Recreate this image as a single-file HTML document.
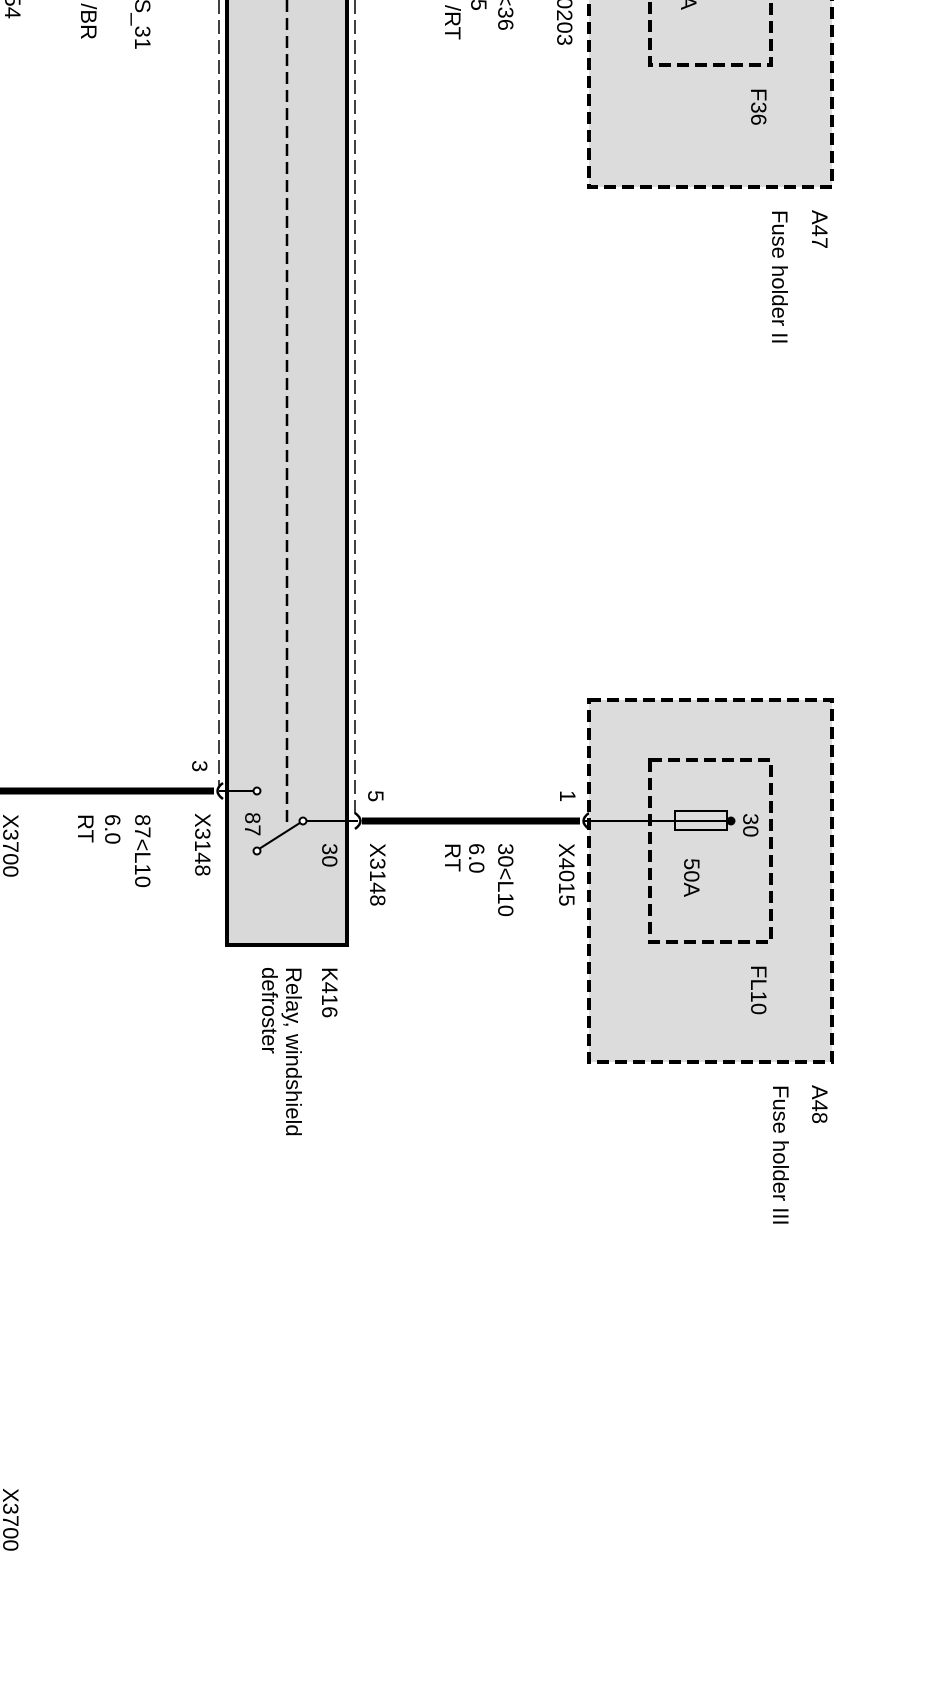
<!DOCTYPE html>
<html><head><meta charset="utf-8"><style>
html,body{margin:0;padding:0;background:#fff;}
svg{display:block;}
text{font-family:"Liberation Sans",Arial,sans-serif;font-size:22px;fill:#000;}
</style></head><body>
<svg width="938" height="1701" viewBox="0 0 938 1701" xmlns="http://www.w3.org/2000/svg">
<!-- Relay K416 -->
<rect x="227" y="-10" width="120" height="955" fill="#d9d9d9" stroke="#000" stroke-width="4"/>
<line x1="287" y1="0" x2="287" y2="828" stroke="#000" stroke-width="2.5" stroke-dasharray="12,6"/>
<line x1="219" y1="0" x2="219" y2="786" stroke="#000" stroke-width="1.5" stroke-dasharray="14,6"/>
<line x1="355" y1="0" x2="355" y2="815" stroke="#000" stroke-width="1.5" stroke-dasharray="14,6"/>

<!-- wire 3 -->
<line x1="0" y1="791" x2="214" y2="791" stroke="#000" stroke-width="7"/>
<path d="M223 783 Q212 791 223 799" fill="none" stroke="#000" stroke-width="2.5"/>
<line x1="219" y1="791" x2="254" y2="791" stroke="#000" stroke-width="2"/>
<circle cx="257" cy="791" r="3.5" fill="#fff" stroke="#000" stroke-width="2"/>
<!-- switch -->
<line x1="303" y1="821" x2="259" y2="849" stroke="#000" stroke-width="2"/>
<line x1="306" y1="821" x2="358" y2="821" stroke="#000" stroke-width="2"/>
<circle cx="303" cy="821" r="3.5" fill="#fff" stroke="#000" stroke-width="2"/>
<circle cx="257" cy="851" r="3.5" fill="#fff" stroke="#000" stroke-width="2"/>

<!-- wire 5 -->
<path d="M355 813 Q366 821 355 829" fill="none" stroke="#000" stroke-width="2.5"/>
<line x1="362" y1="821" x2="580" y2="821" stroke="#000" stroke-width="7"/>
<path d="M589 813 Q578 821 589 829" fill="none" stroke="#000" stroke-width="2.5"/>

<!-- A47 -->
<rect x="589" y="-20" width="243" height="207" fill="#dcdcdc" stroke="#000" stroke-width="4" stroke-dasharray="12,6"/>
<rect x="650" y="-20" width="121" height="85" fill="none" stroke="#000" stroke-width="4" stroke-dasharray="12,6"/>

<!-- A48 -->
<rect x="589" y="700" width="243" height="362" fill="#dcdcdc" stroke="#000" stroke-width="4" stroke-dasharray="12,6"/>
<rect x="650" y="760" width="121" height="182" fill="none" stroke="#000" stroke-width="4" stroke-dasharray="12,6"/>
<line x1="584" y1="821" x2="733" y2="821" stroke="#000" stroke-width="2"/>
<rect x="675" y="811" width="52" height="19" fill="none" stroke="#000" stroke-width="2"/>
<circle cx="731" cy="821" r="4.5" fill="#000"/>

<!-- labels -->
<g>
<text transform="translate(5,19) rotate(90)" text-anchor="end">54</text>
<text transform="translate(81,40) rotate(90)" text-anchor="end">/BR</text>
<text transform="translate(135,50) rotate(90)" text-anchor="end">S_31</text>
<text transform="translate(445,40) rotate(90)" text-anchor="end">/RT</text>
<text transform="translate(471,11) rotate(90)" text-anchor="end">5</text>
<text transform="translate(498,31) rotate(90)" text-anchor="end">&lt;36</text>
<text transform="translate(557,46) rotate(90)" text-anchor="end">0203</text>
<text transform="translate(681,10) rotate(90)" text-anchor="end">A</text>

<text transform="translate(751,88) rotate(90)">F36</text>
<text transform="translate(812,210) rotate(90)">A47</text>
<text transform="translate(772,210) rotate(90)">Fuse holder II</text>

<text transform="translate(192,760) rotate(90)">3</text>
<text transform="translate(195,813) rotate(90)">X3148</text>
<text transform="translate(245,812) rotate(90)">87</text>
<text transform="translate(322,843) rotate(90)">30</text>
<text transform="translate(368,790) rotate(90)">5</text>
<text transform="translate(370,843) rotate(90)">X3148</text>

<text transform="translate(3,814) rotate(90)">X3700</text>
<text transform="translate(78,814) rotate(90)">RT</text>
<text transform="translate(105,814) rotate(90)">6.0</text>
<text transform="translate(135,814) rotate(90)">87&lt;L10</text>

<text transform="translate(445,843) rotate(90)">RT</text>
<text transform="translate(469,843) rotate(90)">6.0</text>
<text transform="translate(498,843) rotate(90)">30&lt;L10</text>
<text transform="translate(559,843) rotate(90)">X4015</text>
<text transform="translate(560,790) rotate(90)">1</text>

<text transform="translate(743,813) rotate(90)">30</text>
<text transform="translate(684,858) rotate(90)">50A</text>
<text transform="translate(751,965) rotate(90)">FL10</text>

<text transform="translate(322,967) rotate(90)">K416</text>
<text transform="translate(286,967) rotate(90)">Relay, windshield</text>
<text transform="translate(262,967) rotate(90)">defroster</text>

<text transform="translate(812,1085) rotate(90)">A48</text>
<text transform="translate(773,1085) rotate(90)">Fuse holder III</text>

<text transform="translate(3,1488) rotate(90)">X3700</text>
</g>
</svg>
</body></html>
